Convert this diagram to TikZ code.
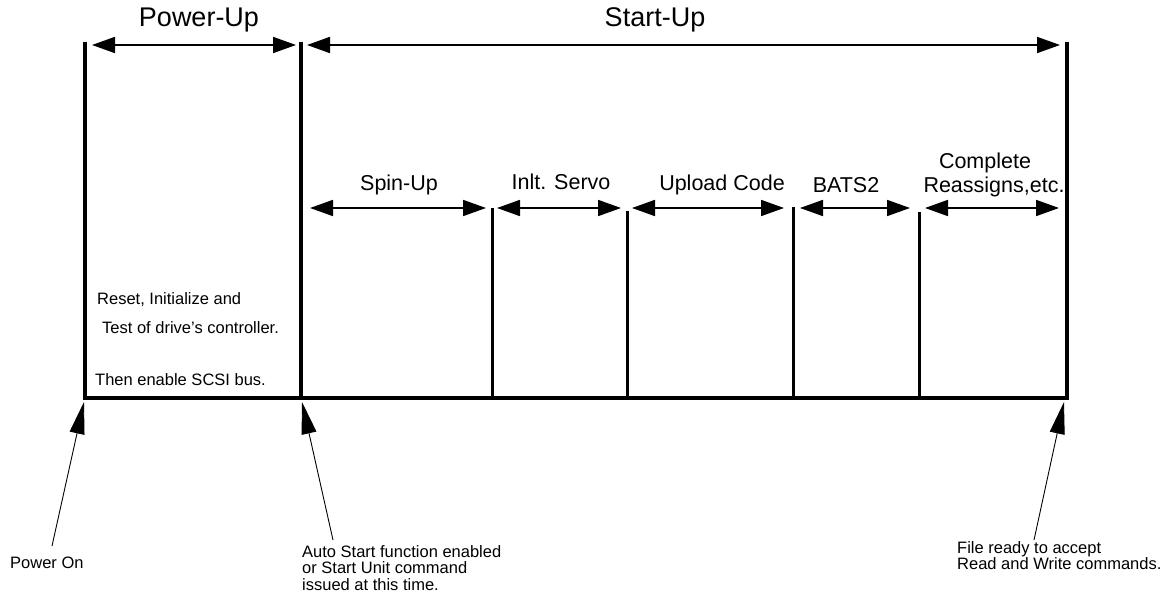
\documentclass[tikz,border=0pt]{standalone}
\usepackage{fontspec}
\setmainfont{Liberation Sans}
\usetikzlibrary{arrows.meta}
\begin{document}
\begin{tikzpicture}[x=1pt,y=-1pt,
  bar/.style={line width=4pt},
  subbar/.style={line width=3pt},
  span/.style={line width=1.8pt,{Triangle[length=23pt,width=16pt]}-{Triangle[length=23pt,width=16pt]}},
  pointer/.style={line width=0.9pt,-{Triangle[length=32pt,width=15pt]}},
  big/.style={font=\fontsize{27}{29}\selectfont, inner sep=0pt},
  mid/.style={font=\fontsize{21.5}{22}\selectfont, inner sep=0pt},
  small/.style={font=\fontsize{16.5}{16.5}\selectfont, inner sep=0pt, align=left}]
\useasboundingbox (0,0) rectangle (1164,599);
% main frame
\coordinate (L0) at (85,42);  \coordinate (L1) at (85,398);
\coordinate (M0) at (301,42); \coordinate (M1) at (301,398);
\coordinate (R0) at (1067,42); \coordinate (R1) at (1067,398);
\draw[bar] (L0) -- (L1);
\draw[bar] (M0) -- (M1);
\draw[bar] (R0) -- (R1);
\draw[line width=4pt] ([xshift=-2pt]L1) -- ([xshift=2pt]R1);
% sub dividers
\coordinate (D1a) at (492,208); \coordinate (D1b) at (492,398);
\coordinate (D2a) at (627,211); \coordinate (D2b) at (627,398);
\coordinate (D3a) at (793,207); \coordinate (D3b) at (793,398);
\coordinate (D4a) at (919,212); \coordinate (D4b) at (919,398);
\draw[subbar] (D1a) -- (D1b);
\draw[subbar] (D2a) -- (D2b);
\draw[subbar] (D3a) -- (D3b);
\draw[subbar] (D4a) -- (D4b);
% top spans
\coordinate (pa) at (92,45); \coordinate (pb) at (296,45);
\coordinate (sa) at (307,45); \coordinate (sb) at (1060,45);
\draw[span] (pa) -- (pb);
\draw[span] (sa) -- (sb);
\node[big] (powerup) at (199,20) {Power-Up};
\node[big] (startup) at (655,20) {Start-Up};
% sub spans
\coordinate (s1a) at (310,208); \coordinate (s1b) at (486,208);
\coordinate (s2a) at (497,208); \coordinate (s2b) at (621,208);
\coordinate (s3a) at (632,208); \coordinate (s3b) at (784,208);
\coordinate (s4a) at (800,208); \coordinate (s4b) at (910,208);
\coordinate (s5a) at (925,208); \coordinate (s5b) at (1059,208);
\draw[span] (s1a) -- (s1b);
\draw[span] (s2a) -- (s2b);
\draw[span] (s3a) -- (s3b);
\draw[span] (s4a) -- (s4b);
\draw[span] (s5a) -- (s5b);
\node[mid] (spin) at (399,185) {Spin-Up};
\node[mid] (servo) at (561,182) {Inlt. Servo};
\node[mid] (upload) at (722,185) {Upload Code};
\node[mid] (bats) at (846,185) {BATS2};
\node[mid] (compl) at (985,163) {Complete};
\node[mid] (reass) at (994,187) {Reassigns,etc.};
% power-up text
\node[small, anchor=west] (t1) at (97,300) {Reset, Initialize and};
\node[small, anchor=west] (t2) at (102,328) {Test of drive's controller.};
\node[small, anchor=west] (t3) at (95,380) {Then enable SCSI bus.};
% bottom labels
\node[small, anchor=west] (pon) at (10,563) {Power On};
\node[small, anchor=north west] (auto) at (302,545) {Auto Start function enabled\\or Start Unit command\\issued at this time.};
\node[small, anchor=north west] (file) at (957,541) {File ready to accept\\Read and Write commands.};
% pointers
\coordinate (p1) at (52,546); \coordinate (p1t) at (84,402);
\coordinate (p2) at (333,540); \coordinate (p2t) at (302,402);
\coordinate (p3) at (1034,540); \coordinate (p3t) at (1064,402);
\draw[pointer] (p1) -- (p1t);
\draw[pointer] (p2) -- (p2t);
\draw[pointer] (p3) -- (p3t);
\end{tikzpicture}
\end{document}
